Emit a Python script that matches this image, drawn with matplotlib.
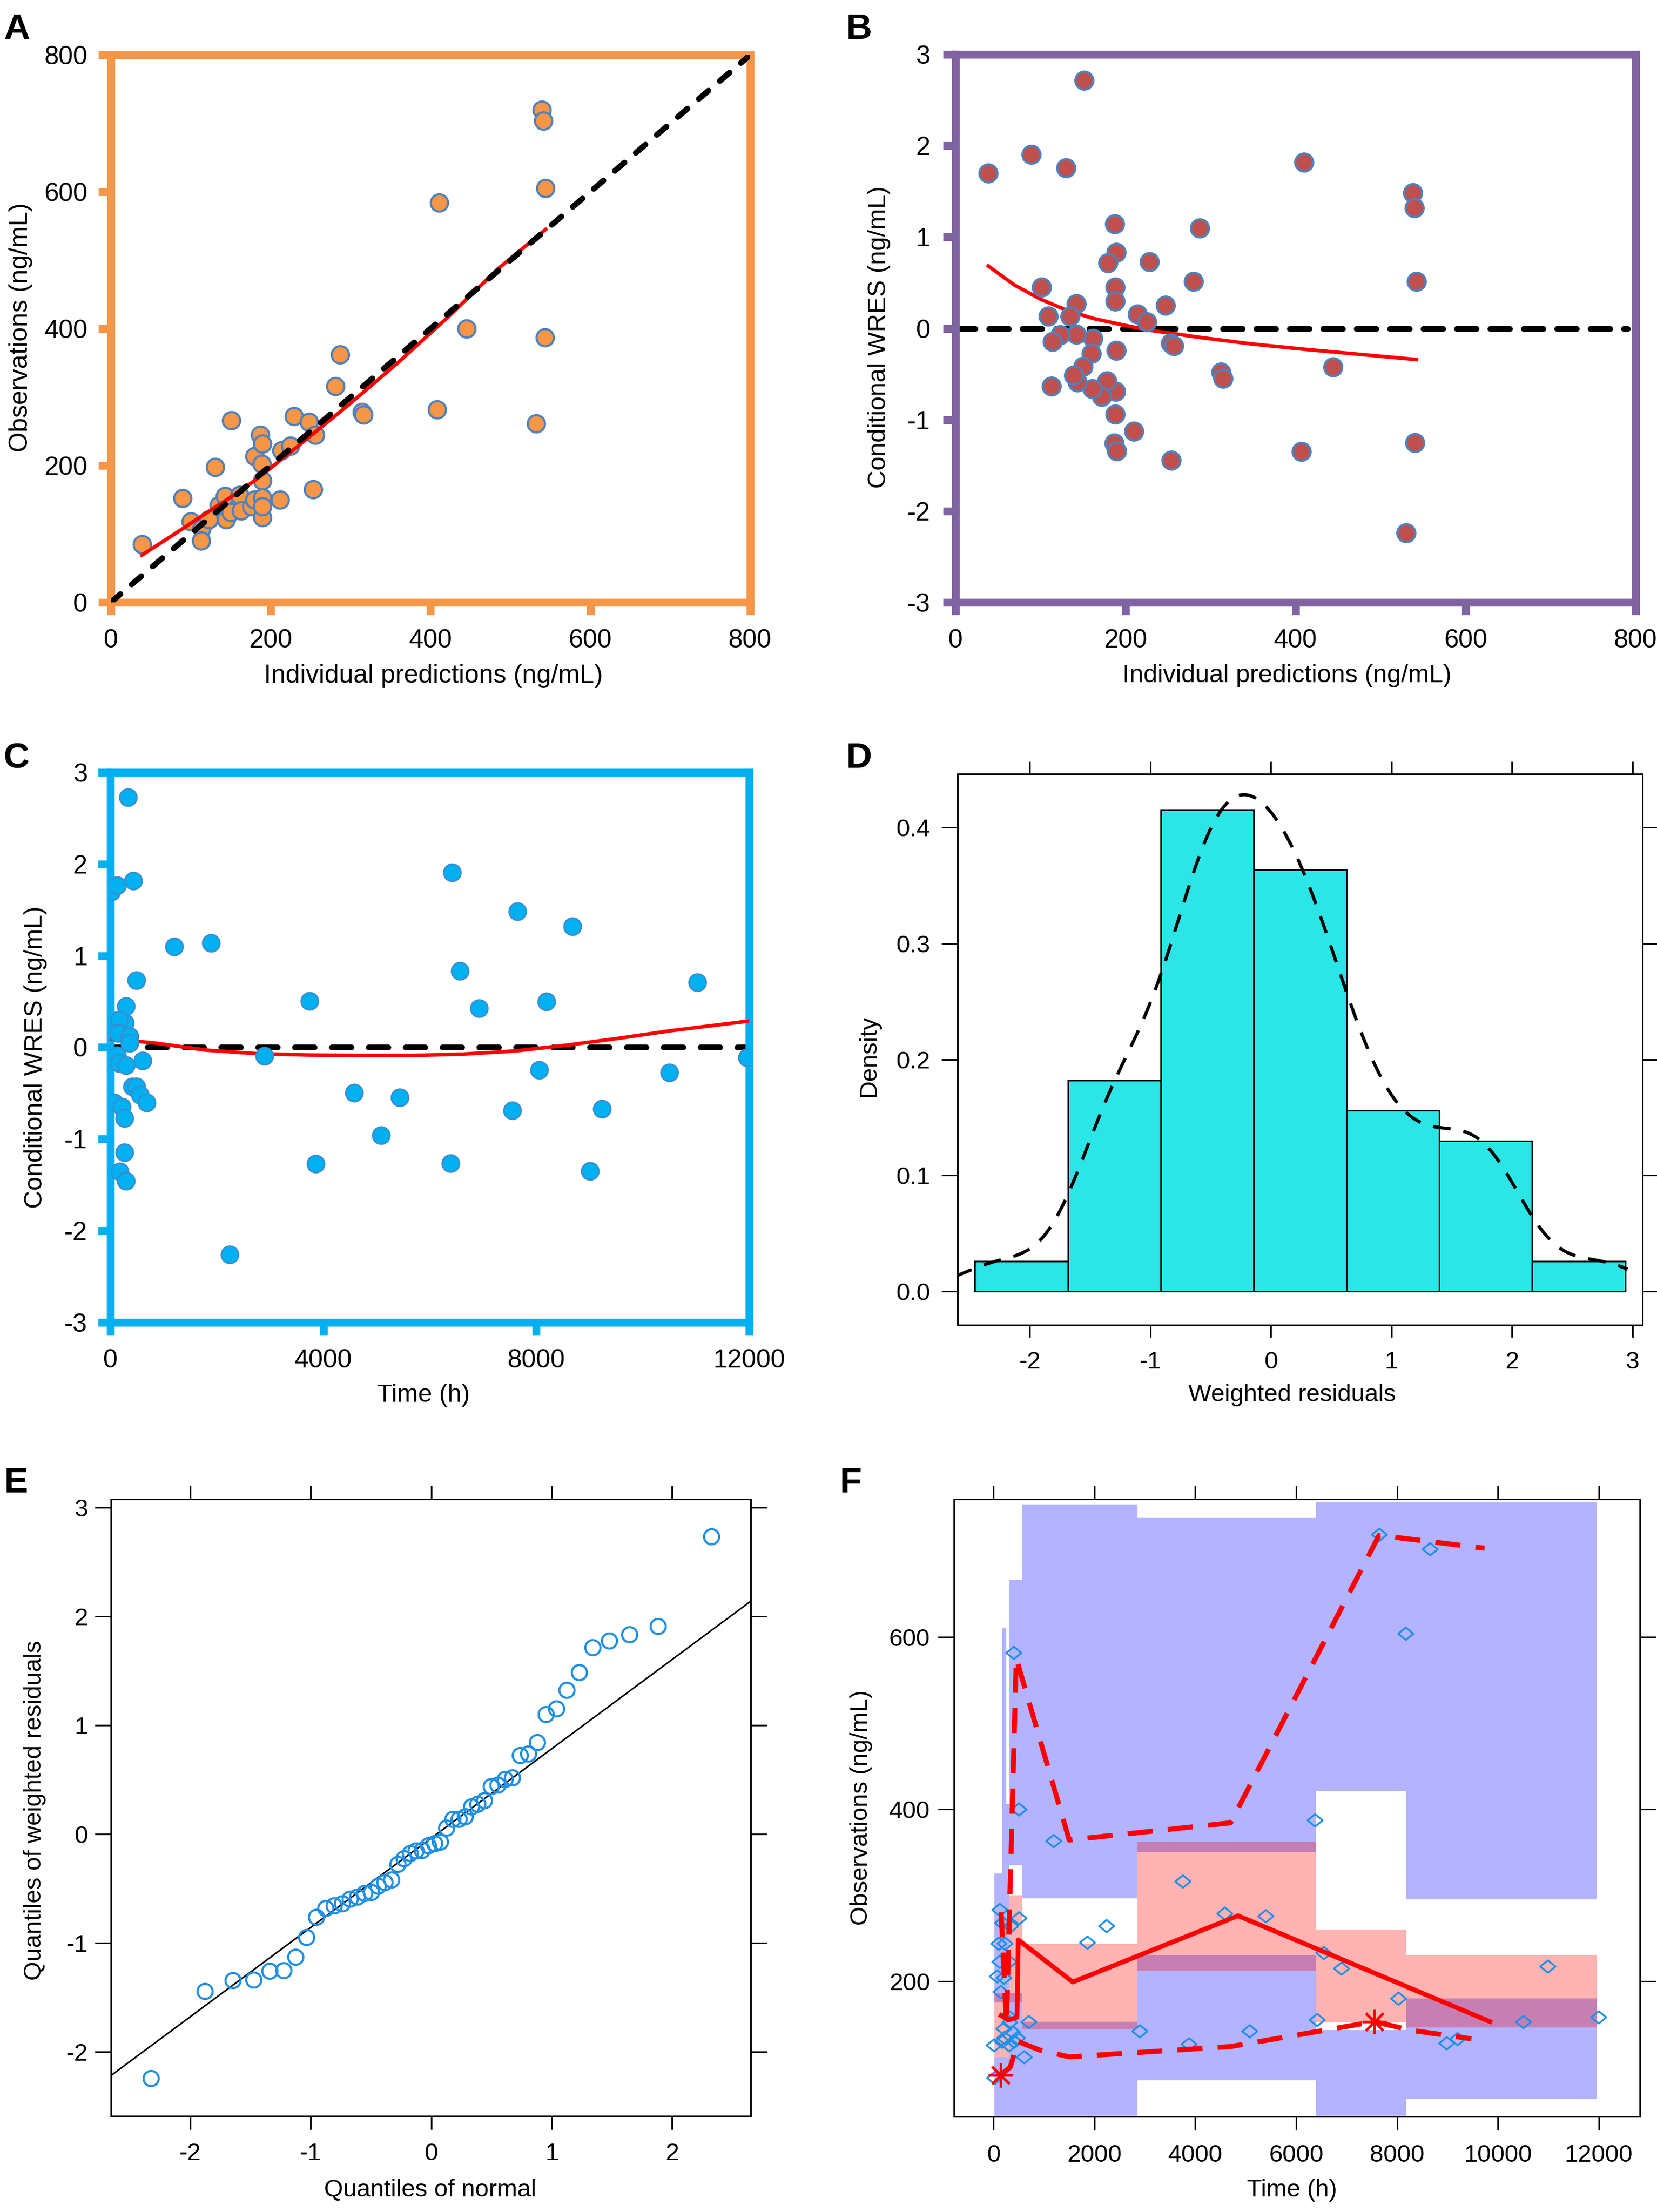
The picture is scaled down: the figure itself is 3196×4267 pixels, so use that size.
import numpy as np
import matplotlib
matplotlib.use("Agg")
import matplotlib.pyplot as plt
from matplotlib.path import Path
from matplotlib.ticker import FormatStrFormatter
from statistics import NormalDist

plt.rcParams['font.family'] = ['Liberation Sans', 'DejaVu Sans']
plt.rcParams['axes.unicode_minus'] = False

# ---------------- data ----------------
# Panel A: individual predictions vs observations
A_ipred = [39, 90, 131, 151, 100, 114, 113, 123, 135, 143, 144, 150, 161, 163, 176, 180, 180, 187, 190, 189,
           190, 190, 190, 190, 212, 214, 225, 229, 248, 256, 253, 281, 287, 314, 316, 408, 411, 445, 532, 539,
           541, 543, 544]
A_obs = [85, 152, 198, 266, 118, 108, 90, 121, 142, 155, 121, 132, 157, 134, 140, 150, 214, 245, 232, 202,
         178, 153, 124, 140, 150, 222, 229, 272, 264, 245, 165, 316, 362, 278, 274, 282, 584, 400, 261, 720,
         704, 387, 605]
A_fit_x = [39, 80, 111, 161, 187, 236, 298, 360, 423, 485, 544]
A_fit_y = [69, 100, 124, 162, 184, 230, 289, 351, 418, 488, 545]

# Panel B: individual predictions vs CWRES
B_ipred = [38.5, 88.9, 129.9, 151, 410, 537.6, 539.5, 542, 540, 530, 407, 444, 312, 314.5, 287, 280, 247, 253,
           256.7, 228, 214, 225, 187, 189, 179, 188, 188, 189, 188.3, 187.7, 186.5, 189.6, 210, 253.6, 178, 172,
           161, 161.6, 160, 149.8, 143, 139, 142, 142, 135, 123, 114, 113, 109, 101]
B_cwres = [1.70, 1.907, 1.756, 2.717, 1.82, 1.483, 1.322, 0.512, -1.249, -2.239, -1.346, -0.424, -0.478, -0.546,
           1.098, 0.512, 0.254, -0.161, -0.190, 0.732, 0.156, 0.073, 1.146, 0.834, 0.717, 0.449, 0.298, -0.239,
           -0.688, -0.941, -1.259, -1.341, -1.127, -1.444, -0.576, -0.746, -0.659, -0.112, -0.273, -0.420,
           -0.590, -0.512, -0.063, 0.268, 0.132, -0.073, -0.146, -0.634, 0.132, 0.454]
B_fit_x = [38.5, 69.6, 100.7, 131.8, 162.8, 194, 225, 287, 349, 411, 474, 542]
B_fit_y = [0.683, 0.473, 0.317, 0.195, 0.107, 0.044, -0.015, -0.098, -0.171, -0.229, -0.283, -0.341]

# Panel C: time vs CWRES
C_time = [19, 126, 426, 329, 1200, 1887, 484, 290, 271, 165, 145, 358, 358, 126, 165, 290, 600, 406, 484, 552,
          677, 68, 213, 261, 261, 174, 290, 2236, 2894, 3745, 3861, 4577, 5081, 5439, 6416, 6561, 6387, 6929,
          7548, 7645, 8052, 8187, 8681, 9010, 9232, 10500, 11023, 11961]
C_cwres = [1.698, 1.766, 1.820, 2.727, 1.098, 1.141, 0.732, 0.449, 0.268, 0.302, 0.156, 0.122, 0.049, -0.088,
           -0.171, -0.195, -0.146, -0.429, -0.429, -0.517, -0.600, -0.600, -0.649, -0.771, -1.146, -1.356,
           -1.454, -2.259, -0.093, 0.507, -1.268, -0.493, -0.956, -0.546, 1.907, 0.834, -1.263, 0.429, -0.688,
           1.483, -0.244, 0.502, 1.322, -1.351, -0.668, -0.273, 0.712, -0.112]
C_fit_x = [0, 822, 1790, 2758, 3726, 4694, 5662, 6629, 7597, 8565, 9532, 10500, 12000]
C_fit_y = [0.093, 0.049, -0.029, -0.068, -0.083, -0.088, -0.088, -0.073, -0.039, 0.024, 0.098, 0.180, 0.288]

# Panels D and E: weighted residuals (sorted)
E_wres = [-2.244, -1.442, -1.341, -1.336, -1.258, -1.253, -1.129, -0.949, -0.760, -0.682, -0.654, -0.636,
          -0.594, -0.576, -0.544, -0.530, -0.475, -0.440, -0.419, -0.276, -0.221, -0.175, -0.152, -0.146,
          -0.106, -0.083, -0.069, 0.060, 0.138, 0.138, 0.161, 0.253, 0.276, 0.313, 0.438, 0.452, 0.507, 0.521,
          0.724, 0.737, 0.843, 1.101, 1.152, 1.327, 1.488, 1.714, 1.779, 1.834, 1.912, 2.733]
D_bin_edges = [-2.456, -1.685, -0.915, -0.144, 0.627, 1.397, 2.168, 2.939]

# Panel F: VPC
F_time = [398, 503, 1183, 3749, 4586, 5393, 1853, 2241, 503, 6545, 6890, 8021, 10984, 11990, 10503, 6408,
          7644, 8649, 8168, 6366, 2890, 3874, 5079, 8984, 9194, 691, 607, 118, 169, 338, 101, 220, 118, 304,
          68, 203, 135, 270, 203, 372, 10, 304, 169, 473, 405, 21, 209, 314]
F_conc = [582, 400, 363, 316, 279, 276, 245, 264, 273, 233, 215, 180, 217, 158, 153, 155, 719, 702, 604, 387,
          142, 127, 142, 128, 133, 153, 112, 283, 268, 264, 244, 244, 223, 223, 206, 204, 188, 160, 145, 141,
          126, 126, 130, 134, 130, 88, 134, 152]
F_bin_left = [17, 169, 253, 312, 557, 2850, 6390, 8180]
F_bin_right = [169, 253, 312, 557, 2850, 6390, 8180, 11960]
F_up_lo = [175, 175, 175, 335, 296, 350, 421, 295]
F_up_hi = [325, 610, 406, 666, 754, 739, 757, 757]
F_med_lo = [112, 112, 112, 175, 144, 212, 152, 146]
F_med_hi = [186, 186, 186, 300, 243, 362, 260, 230]
F_low_lo = [20, 20, 20, 20, 20, 85, 20, 63]
F_low_hi = [112, 112, 112, 186, 153, 230, 143, 180]
F_med_t = [150, 300, 465, 490, 1571, 4848, 9843]
F_med_c = [160, 155, 158, 248, 199, 276, 153]
F_p95_t = [150, 255, 450, 1500, 4700, 7644, 9738]
F_p95_c = [280, 150, 575, 364, 384, 718, 703]
F_p05_t = [135, 330, 480, 912, 1500, 4700, 7550, 8272, 9476]
F_p05_c = [91, 100, 130, 120, 112, 124, 153, 143, 133]
F_star_t = [135, 7550]
F_star_c = [91, 153]

# ---------------- figure ----------------
W, H = 3196, 4267
DPI = 100
fig = plt.figure(figsize=(W / DPI, H / DPI), dpi=DPI)


def make_axes(l, r, t, b):
    return fig.add_axes([l / W, 1 - b / H, (r - l) / W, (b - t) / H])


def fx(x):
    return x / W


def fy(y):
    return 1 - y / H


def place_labels(ax, xlabel, xpos, ylabel, ypos, size):
    ax.set_xlabel(xlabel, fontsize=size)
    ax.set_ylabel(ylabel, fontsize=size)
    ax.xaxis.set_label_coords(fx(xpos[0]), fy(xpos[1]), transform=fig.transFigure)
    ax.yaxis.set_label_coords(fx(ypos[0]), fy(ypos[1]), transform=fig.transFigure)
    ax.xaxis.label.set_verticalalignment('center')
    ax.yaxis.label.set_verticalalignment('center')


def style_excel(ax, color, xpad, ypad):
    for sp in ax.spines.values():
        sp.set_color(color)
        sp.set_linewidth(11)
    ax.tick_params(axis='both', direction='out', color=color, width=11, length=17,
                   labelsize=36, labelcolor='black')
    ax.tick_params(axis='x', pad=xpad)
    ax.tick_params(axis='y', pad=ypad)


def style_lattice(ax, xlen, ylen, xpad, ypad, size):
    for sp in ax.spines.values():
        sp.set_color('black')
        sp.set_linewidth(2.2)
    ax.tick_params(axis='both', direction='out', top=True, right=True, width=2.2,
                   labelsize=size, color='black')
    ax.tick_params(axis='x', length=xlen, pad=xpad)
    ax.tick_params(axis='y', length=ylen, pad=ypad)


# ---- Panel A ----
ORANGE = '#F79646'
EDGE_BLUE = '#4F81BD'
axA = make_axes(213.5, 1447, 106, 1162)
axA.plot(A_ipred, A_obs, 'o', ms=24, mfc=ORANGE, mec=EDGE_BLUE, mew=3, zorder=3, linestyle='none')
axA.plot(A_fit_x, A_fit_y, color='red', lw=5, zorder=4)
axA.plot([0, 800], [0, 800], color='black', lw=8, dashes=(2.2, 2.6), dash_capstyle='round', zorder=5)
axA.set_xlim(0, 800)
axA.set_ylim(0, 800)
axA.set_xticks([0, 200, 400, 600, 800])
axA.set_yticks([0, 200, 400, 600, 800])
style_excel(axA, ORANGE, 20, 15)
place_labels(axA, 'Individual predictions (ng/mL)', (836, 1304), 'Observations (ng/mL)', (40, 632), 36)

# ---- Panel B ----
PURPLE = '#8064A2'
axB = make_axes(1843, 3155, 105, 1162)
axB.plot([0, 790], [0, 0], color='black', lw=8, dashes=(3.4, 2.4), dash_capstyle='round', zorder=2)
axB.plot(B_fit_x, B_fit_y, color='red', lw=5, zorder=3)
axB.plot(B_ipred, B_cwres, 'o', ms=25, mfc='#C0504D', mec=EDGE_BLUE, mew=3, zorder=4, linestyle='none')
axB.set_xlim(0, 800)
axB.set_ylim(-3, 3)
axB.set_xticks([0, 200, 400, 600, 800])
axB.set_yticks([-3, -2, -1, 0, 1, 2, 3])
style_excel(axB, PURPLE, 20, 18)
place_labels(axB, 'Individual predictions (ng/mL)', (2482, 1304), 'Conditional WRES (ng/mL)', (1695, 650), 35)

# ---- Panel C ----
SKY = '#00B0F0'
axC = make_axes(213, 1445, 1490, 2551)
axC.plot([0, 12000], [0, 0], color='black', lw=8, dashes=(3.4, 3.0), dash_capstyle='round', zorder=2)
axC.plot(C_fit_x, C_fit_y, color='red', lw=5, zorder=3)
axC.plot(C_time, C_cwres, 'o', ms=24, mfc=SKY, mec='#3C8CD0', mew=2, zorder=4, linestyle='none')
axC.set_xlim(0, 12000)
axC.set_ylim(-3, 3)
axC.set_xticks([0, 4000, 8000, 12000])
axC.set_yticks([-3, -2, -1, 0, 1, 2, 3])
style_excel(axC, SKY, 20, 15)
place_labels(axC, 'Time (h)', (817, 2691), 'Conditional WRES (ng/mL)', (69, 2039), 35)

# ---- Panel D ----
axD = make_axes(1847, 3168, 1493, 2556)
wres = np.array(E_wres)
axD.hist(wres, bins=D_bin_edges, density=True, facecolor='#2CE5E6', edgecolor='black', linewidth=2.2, zorder=2)
n = len(wres)
q1, q3 = np.percentile(wres, [25, 75])
bw = 0.9 * min(np.std(wres, ddof=1), (q3 - q1) / 1.34) * n ** -0.2
grid = np.linspace(-2.62, 2.96, 400)
dens = np.exp(-0.5 * ((grid[:, None] - wres[None, :]) / bw) ** 2).sum(axis=1) / (n * bw * np.sqrt(2 * np.pi))
axD.plot(grid, dens, color='black', lw=4.5, dashes=(5.5, 4.0), zorder=3)
axD.set_xlim(-2.60, 3.083)
axD.set_ylim(-0.029, 0.446)
axD.set_xticks([-2, -1, 0, 1, 2, 3])
axD.set_yticks([0.0, 0.1, 0.2, 0.3, 0.4])
axD.yaxis.set_major_formatter(FormatStrFormatter('%.1f'))
style_lattice(axD, 17, 22, 19, 16, 34)
place_labels(axD, 'Weighted residuals', (2492, 2691), 'Density', (1676, 2037), 34)

# ---- Panel E ----
axE = make_axes(214, 1447.5, 2892, 4082)
nd = NormalDist()
theo = np.array([nd.inv_cdf((i + 0.5) / n) for i in range(n)])
slope = (q3 - q1) / (nd.inv_cdf(0.75) - nd.inv_cdf(0.25))
inter = q1 - slope * nd.inv_cdf(0.25)
xl = np.array([-2.7, 2.7])
axE.plot(xl, inter + slope * xl, color='black', lw=2.2, zorder=2)
axE.plot(theo, np.sort(wres), 'o', ms=21, mfc='none', mec='#1F8FE5', mew=3, zorder=3, linestyle='none')
axE.set_xlim(-2.658, 2.65)
axE.set_ylim(-2.59, 3.078)
axE.set_xticks([-2, -1, 0, 1, 2])
axE.set_yticks([-2, -1, 0, 1, 2, 3])
style_lattice(axE, 19, 22, 18, 10, 34)
place_labels(axE, 'Quantiles of normal', (830, 4225), 'Quantiles of weighted residuals', (67, 3492), 34)

# ---- Panel F ----
axF = make_axes(1840, 3163, 2892, 4083)
BLUE_BAND = '#B3B3FF'
PINK_BAND = '#FFB3B3'
DARK_BAND = '#C77FB3'
lefts = np.array(F_bin_left, float)
widths = np.array(F_bin_right, float) - lefts
for lo, hi in ((F_up_lo, F_up_hi), (F_low_lo, F_low_hi)):
    lo = np.array(lo, float); hi = np.array(hi, float)
    axF.bar(lefts, hi - lo, bottom=lo, width=widths, align='edge', color=BLUE_BAND, linewidth=0, zorder=1)
mlo = np.array(F_med_lo, float); mhi = np.array(F_med_hi, float)
axF.bar(lefts, mhi - mlo, bottom=mlo, width=widths, align='edge', color=PINK_BAND, linewidth=0, zorder=1.5)
for lo, hi in ((F_up_lo, F_up_hi), (F_low_lo, F_low_hi)):
    olo = np.maximum(mlo, np.array(lo, float))
    ohi = np.minimum(mhi, np.array(hi, float))
    hgt = np.clip(ohi - olo, 0, None)
    axF.bar(lefts, hgt, bottom=olo, width=widths, align='edge', color=DARK_BAND, linewidth=0, zorder=1.7)
diamond = Path([(-1, 0), (0, 0.82), (1, 0), (0, -0.82), (-1, 0)],
               [Path.MOVETO, Path.LINETO, Path.LINETO, Path.LINETO, Path.CLOSEPOLY])
axF.plot(F_time, F_conc, linestyle='none', marker=diamond, ms=21, mfc='none', mec='#1F8FE8', mew=2.5, zorder=3)
axF.plot(F_p95_t, F_p95_c, color='red', lw=7, dashes=(5.0, 3.0), zorder=4)
axF.plot(F_p05_t, F_p05_c, color='red', lw=7, dashes=(5.0, 3.0), zorder=4)
axF.plot(F_med_t, F_med_c, color='red', lw=6.5, zorder=4)
axF.plot(F_star_t, F_star_c, linestyle='none', marker=(8, 2, 0), ms=34, mec='red', mew=3.5, zorder=5)
axF.set_xlim(-786, 12817)
axF.set_ylim(42.6, 760)
axF.set_xticks([0, 2000, 4000, 6000, 8000, 10000, 12000])
axF.set_yticks([200, 400, 600])
style_lattice(axF, 19, 22, 19, 11, 34)
place_labels(axF, 'Time (h)', (2492, 4225), 'Observations (ng/mL)', (1661, 3487), 34)

# ---- panel letters ----
for letter, (x, y) in zip('ABCDEF', [(32, 57), (1656, 57), (31, 1463), (1656, 1463), (31, 2861), (1641, 2861)]):
    fig.text(fx(x), fy(y), letter, fontsize=50, fontweight='bold', ha='center', va='center')

fig.savefig('out.png', dpi=DPI)
